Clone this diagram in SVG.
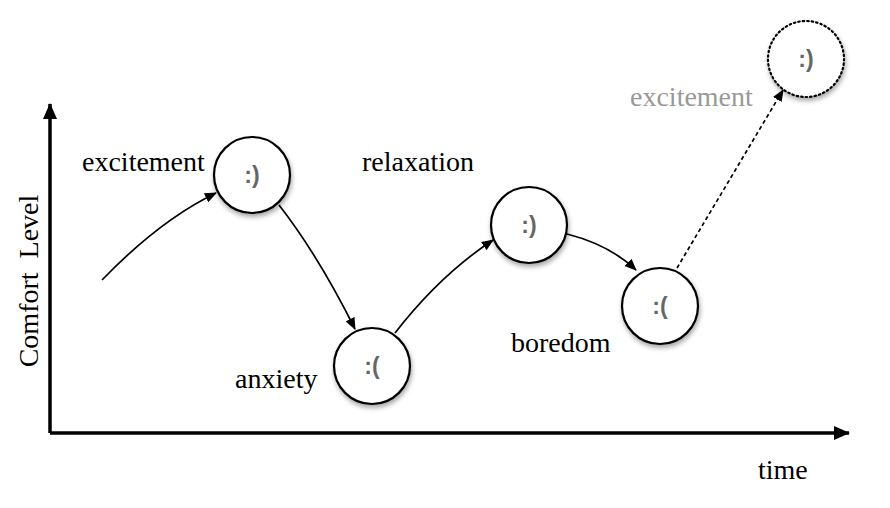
<svg xmlns="http://www.w3.org/2000/svg" width="890" height="508" viewBox="0 0 890 508">
<style>
.lbl{font-family:"Liberation Serif","Times New Roman",serif;font-size:28px;fill:#000}
.face{font-family:"Liberation Sans",Arial,sans-serif;font-size:23px;font-weight:bold;fill:#666;text-anchor:middle;dominant-baseline:central}
.node{fill:#fff;stroke:#000;stroke-width:2.2;filter:url(#sh)}
.conn{fill:none;stroke:#000;stroke-width:1.7;marker-end:url(#ah)}
.axis{fill:none;stroke:#000;stroke-width:3.5}
</style>
<defs>
<filter id="sh" x="-30%" y="-30%" width="160%" height="160%">
<feGaussianBlur in="SourceAlpha" stdDeviation="2.5"/>
<feOffset dx="1" dy="3" result="b"/>
<feComponentTransfer><feFuncA type="linear" slope="0.35"/></feComponentTransfer>
<feMerge><feMergeNode/><feMergeNode in="SourceGraphic"/></feMerge>
</filter>
<marker id="ah" markerWidth="12" markerHeight="10" refX="11" refY="5" orient="auto" markerUnits="userSpaceOnUse">
<path d="M0,0 L12,5 L0,10 Z" fill="#000"/>
</marker>
<marker id="axh" markerWidth="16" markerHeight="14" refX="15" refY="7" orient="auto" markerUnits="userSpaceOnUse">
<path d="M0,0 L16,7 L0,14 Z" fill="#000"/>
</marker>
</defs>
<g id="axes">
<path class="axis" d="M50,433 L50,104" marker-end="url(#axh)"/>
<path class="axis" d="M50,433 L849,433" marker-end="url(#axh)"/>
</g>
<g id="connectors">
<path class="conn" d="M102,280 Q160,220 216,193"/>
<path class="conn" d="M279,205 Q318,255 355,329"/>
<path class="conn" d="M395,333 Q440,275 493,240"/>
<path class="conn" d="M567,234 Q610,245 636,270"/>
<path class="conn" d="M677,268 L783,90" stroke-dasharray="4,3"/>
</g>
<g id="n1"><circle class="node" cx="252" cy="175" r="38"/><text class="face" x="252" y="175">:)</text></g>
<g id="n2"><circle class="node" cx="372" cy="366" r="38"/><text class="face" x="372" y="366">:(</text></g>
<g id="n3"><circle class="node" cx="529" cy="225" r="38"/><text class="face" x="529" y="225">:)</text></g>
<g id="n4"><circle class="node" cx="660" cy="306" r="38"/><text class="face" x="660" y="306">:(</text></g>
<g id="n5"><circle class="node" cx="806" cy="59" r="38" stroke-dasharray="1.5,3" stroke-linecap="round"/><text class="face" x="806" y="59">:)</text></g>
<g id="labels">
<text class="lbl" x="82" y="171">excitement</text>
<text class="lbl" x="362" y="171">relaxation</text>
<text class="lbl" x="235" y="388">anxiety</text>
<text class="lbl" x="511" y="352">boredom</text>
<text class="lbl" x="630" y="106" style="fill:#999">excitement</text>
<text class="lbl" x="758" y="479">time</text>
<text class="lbl" transform="translate(38,281) rotate(-90)" text-anchor="middle" xml:space="preserve">Comfort  Level</text>
</g>
</svg>
